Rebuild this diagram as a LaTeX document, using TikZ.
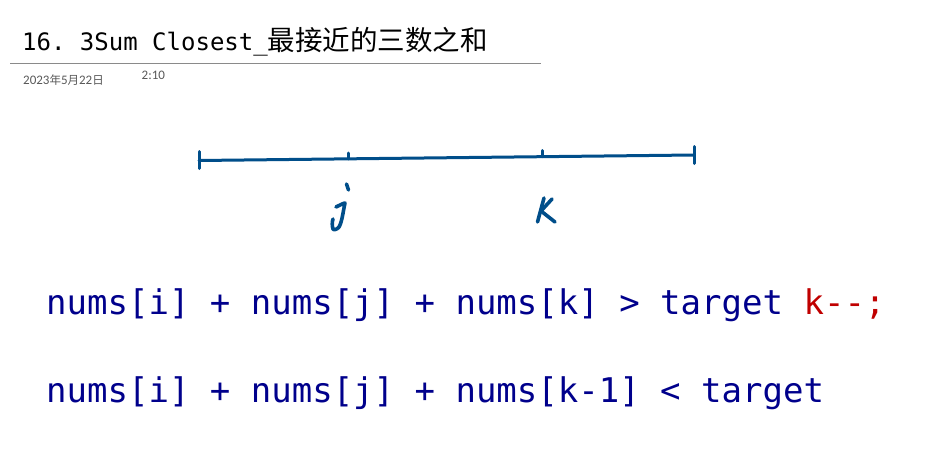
\documentclass[tikz,border=0pt]{standalone}
\usepackage{fontspec}
\setmonofont{DejaVu Sans Mono}
\newfontfamily\cjk{Noto Sans CJK SC}
\newfontfamily\calib{Carlito}
\definecolor{inkblue}{RGB}{0,78,138}
\definecolor{codeblue}{RGB}{0,0,140}
\definecolor{codered}{RGB}{192,0,0}
\definecolor{dategray}{RGB}{89,89,89}
\definecolor{rulegray}{RGB}{138,138,138}
\begin{document}
\begin{tikzpicture}[x=1pt,y=-1pt,
  txt/.style={inner sep=0pt,anchor=base west},
  code/.style={txt,font=\fontsize{34}{40}\selectfont\ttfamily,text=codeblue},
  ink/.style={draw=inkblue,line width=3pt,line cap=round,line join=round},
  letter/.style={ink,line width=3.6pt}]
\useasboundingbox[fill=white] (0,0) rectangle (926,460);
% header
\node[txt] (title) at (22,51) {\fontsize{24}{28}\selectfont\ttfamily 16. 3Sum Closest\_{\cjk\fontsize{27.5}{30}\selectfont 最接近的三数之和}};
\coordinate (rl) at (10,64);
\coordinate (rr) at (541,64);
\draw[rulegray,line width=1pt] (rl) -- (rr);
\node[txt,text=dategray] (date) at (23,84.5) {\calib\fontsize{13}{15}\selectfont 2023{\cjk\fontsize{11.5}{14}\selectfont 年}5{\cjk\fontsize{11.5}{14}\selectfont 月}22{\cjk\fontsize{11.5}{14}\selectfont 日}};
\node[txt,text=dategray] (time) at (141.5,79.5) {\calib\fontsize{13}{15}\selectfont 2:10};
% handwritten line
\coordinate (L) at (199,160.5);
\coordinate (R) at (694,155);
\coordinate (Lt) at (199,151.5);
\coordinate (Lb) at (199,168.5);
\coordinate (Rt) at (694,146.5);
\coordinate (Rb) at (694,163.5);
\coordinate (jt) at (348,153);
\coordinate (jb) at (348,158.8);
\coordinate (kt) at (542,150.5);
\coordinate (kb) at (542,156.7);
\draw[ink] (L) -- (R);
\draw[ink] (Lt) -- (Lb);
\draw[ink] (Rt) -- (Rb);
\draw[ink] (jt) -- (jb);
\draw[ink] (kt) -- (kb);
% handwritten j
\coordinate (jd1) at (346.5,184);
\coordinate (jd2) at (348.5,190);
\coordinate (js1) at (336,207);
\coordinate (js2) at (345,203);
\coordinate (js3) at (333,229);
\coordinate (js4) at (333,219);
\draw[letter] (jd1) -- (jd2);
\draw[letter] (js1) .. controls (340,205) and (344,203) .. (js2)
  .. controls (343,212) and (342,222) .. (339,227)
  .. controls (337,230) and (333,230) .. (js3)
  .. controls (332,226) and (332,222) .. (js4);
% handwritten k
\coordinate (kv1) at (544,198);
\coordinate (kv2) at (537.5,222);
\coordinate (kd1) at (552,199);
\coordinate (kd2) at (541,211);
\coordinate (kd3) at (555,222);
\draw[letter] (kv1) -- (kv2);
\draw[letter] (kd1) -- (kd2) -- (kd3);
% code lines
\node[code] (c1) at (46,314) {nums[i] + nums[j] + nums[k] > target \textcolor{codered}{k--;}};
\node[code] (c2) at (46,402) {nums[i] + nums[j] + nums[k-1] < target};
\end{tikzpicture}
\end{document}
